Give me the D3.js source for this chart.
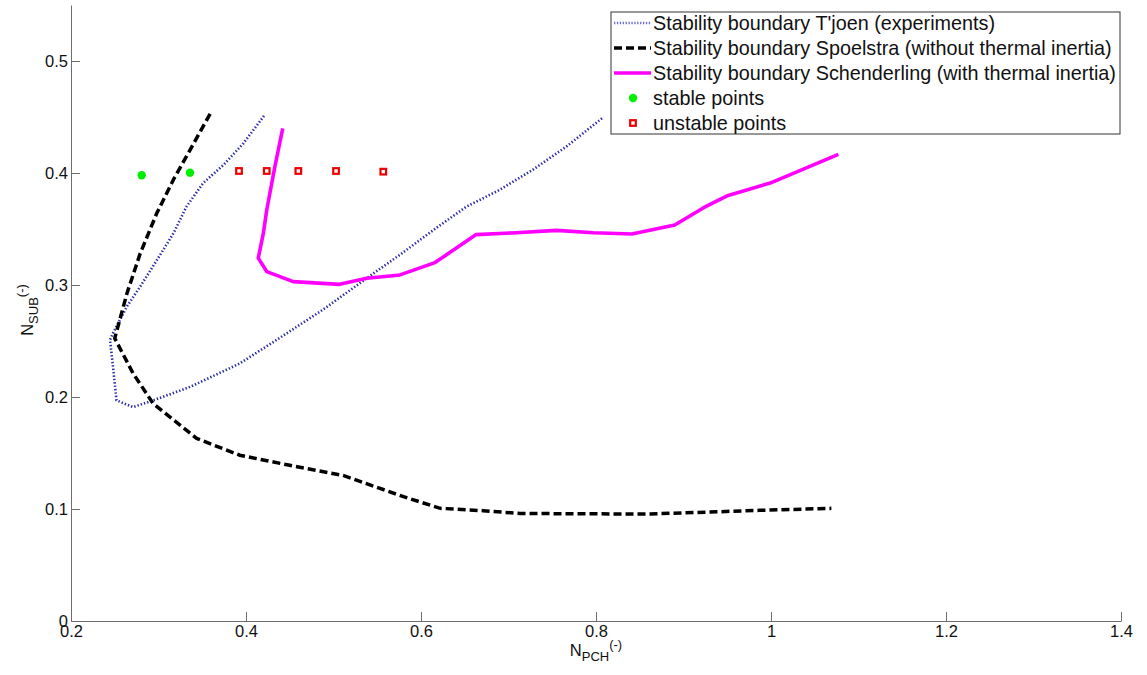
<!DOCTYPE html>
<html>
<head>
<meta charset="utf-8">
<script src="https://cdn.jsdelivr.net/npm/d3@7"></script>
<style>
  body { margin: 0; background: #fff; }
  svg { display: block; font-family: "Liberation Sans", Arial, sans-serif; }
</style>
</head>
<body>
<svg width="1147" height="675"></svg>
<script>
// T'joen experiments (blue dotted)
const tjoenX = [0.4206, 0.397, 0.374, 0.351, 0.332, 0.317, 0.298, 0.279, 0.264, 0.248, 0.2446, 0.248, 0.252, 0.271, 0.294, 0.336, 0.393, 0.435, 0.488, 0.545, 0.576, 0.614, 0.652, 0.690, 0.728, 0.766, 0.8087];
const tjoenY = [0.451, 0.4265, 0.407, 0.391, 0.370, 0.346, 0.322, 0.2985, 0.281, 0.257, 0.251, 0.227, 0.197, 0.191, 0.197, 0.209, 0.230, 0.251, 0.278, 0.310, 0.327, 0.349, 0.370, 0.385, 0.403, 0.4235, 0.450];

// Spoelstra, without thermal inertia (black dashed)
const spoelX = [0.359, 0.336, 0.317, 0.298, 0.279, 0.264, 0.250, 0.271, 0.294, 0.3436, 0.393, 0.450, 0.511, 0.58, 0.622, 0.671, 0.713, 0.858, 0.942, 0.987, 1.069];
const spoelY = [0.4527, 0.4205, 0.394, 0.364, 0.328, 0.2926, 0.2524, 0.221, 0.194, 0.163, 0.148, 0.139, 0.130, 0.111, 0.1006, 0.0985, 0.096, 0.0955, 0.0976, 0.0988, 0.1006];

// Schenderling, with thermal inertia (magenta)
const schenX = [0.442, 0.433, 0.4237, 0.4198, 0.414, 0.4237, 0.454, 0.507, 0.538, 0.576, 0.616, 0.663, 0.709, 0.755, 0.797, 0.841, 0.890, 0.923, 0.951, 0.999, 1.077];
const schenY = [0.4399, 0.4056, 0.367, 0.346, 0.324, 0.312, 0.303, 0.3006, 0.306, 0.309, 0.320, 0.345, 0.3467, 0.3488, 0.3467, 0.3455, 0.3536, 0.369, 0.380, 0.391, 0.4167];

const stableX = [0.2808, 0.336];
const stableY = [0.398, 0.4003];
const unstableX = [0.392, 0.4237, 0.4598, 0.5029, 0.5569];
const unstableY = [0.4018, 0.4018, 0.4018, 0.4018, 0.4012];

const xTicks = [0.2, 0.4, 0.6, 0.8, 1, 1.2, 1.4];
const xTickLabels = ["0.2", "0.4", "0.6", "0.8", "1", "1.2", "1.4"];
const yTicks = [0, 0.1, 0.2, 0.3, 0.4, 0.5];
const yTickLabels = ["0", "0.1", "0.2", "0.3", "0.4", "0.5"];

const legendLabels = [
  "Stability boundary T'joen (experiments)",
  "Stability boundary Spoelstra (without thermal inertia)",
  "Stability boundary Schenderling (with thermal inertia)",
  "stable points",
  "unstable points"
];

const svg = d3.select("svg");
const x = d3.scaleLinear().domain([0.2, 1.4]).range([71, 1121]);
const y = d3.scaleLinear().domain([0, 0.55]).range([621, 5]);

const zip = (xs, ys) => xs.map((v, i) => [v, ys[i]]);
const line = d3.line().x(d => x(d[0])).y(d => y(d[1]));

// axes (MATLAB style: inward ticks, no box)
const xAxis = d3.axisBottom(x).tickValues(xTicks)
  .tickFormat((d, i) => xTickLabels[i]).tickSizeInner(-9).tickSizeOuter(0).tickPadding(4);
const yAxis = d3.axisLeft(y).tickValues(yTicks)
  .tickFormat((d, i) => yTickLabels[i]).tickSizeInner(-9).tickSizeOuter(0).tickPadding(3);

const gx = svg.append("g").attr("transform", "translate(0,621)").call(xAxis);
const gy = svg.append("g").attr("transform", "translate(71,0)").call(yAxis);
[gx, gy].forEach(g => {
  g.selectAll("path, line").attr("stroke", "#6e6e6e");
  g.selectAll("text").attr("font-size", 16.5).attr("fill", "#111")
    .attr("font-family", "'Liberation Sans', Arial, sans-serif");
});

// axis labels
const xl = svg.append("text").attr("x", 596).attr("y", 656)
  .attr("text-anchor", "middle").attr("font-size", 16.5).attr("fill", "#111");
xl.append("tspan").text("N");
xl.append("tspan").attr("font-size", 13).attr("dy", 5).text("PCH");
xl.append("tspan").attr("font-size", 13).attr("dy", -12).text("(-)");

const yl = svg.append("text").attr("transform", "translate(33,310) rotate(-90)")
  .attr("text-anchor", "middle").attr("font-size", 16.5).attr("fill", "#111");
yl.append("tspan").text("N");
yl.append("tspan").attr("font-size", 13).attr("dy", 5).text("SUB");
yl.append("tspan").attr("font-size", 13).attr("dy", -12).text("(-)");

// curves
svg.append("path").datum(zip(tjoenX, tjoenY)).attr("d", line)
  .attr("fill", "none").attr("stroke", "#2c2caa").attr("stroke-width", 2.6)
  .attr("stroke-dasharray", "1.4,2");
svg.append("path").datum(zip(spoelX, spoelY)).attr("d", line)
  .attr("fill", "none").attr("stroke", "#000").attr("stroke-width", 3.5)
  .attr("stroke-dasharray", "8,4");
svg.append("path").datum(zip(schenX, schenY)).attr("d", line)
  .attr("fill", "none").attr("stroke", "#ff00ff").attr("stroke-width", 3.6)
  .attr("stroke-linejoin", "round");

// points
svg.append("g").selectAll("circle").data(zip(stableX, stableY)).join("circle")
  .attr("cx", d => x(d[0])).attr("cy", d => y(d[1])).attr("r", 4.2)
  .attr("fill", "#00ee00");
svg.append("g").selectAll("rect").data(zip(unstableX, unstableY)).join("rect")
  .attr("x", d => x(d[0]) - 2.8).attr("y", d => y(d[1]) - 2.8)
  .attr("width", 5.6).attr("height", 5.6)
  .attr("fill", "#fff").attr("stroke", "#ee0000").attr("stroke-width", 2.2);

// legend
const lg = svg.append("g");
lg.append("rect").attr("x", 611).attr("y", 12).attr("width", 509).attr("height", 122)
  .attr("fill", "#fff").attr("stroke", "#333").attr("stroke-width", 1);
const rowY = i => 23 + i * 25;
const styles = [
  { stroke: "#6a6ad0", w: 2.5, dash: "1.3,1.6" },
  { stroke: "#000", w: 3.5, dash: "8,4" },
  { stroke: "#ff00ff", w: 3.5, dash: null }
];
styles.forEach((s, i) => {
  lg.append("line").attr("x1", 614).attr("x2", 651).attr("y1", rowY(i)).attr("y2", rowY(i))
    .attr("stroke", s.stroke).attr("stroke-width", s.w).attr("stroke-dasharray", s.dash);
});
lg.append("circle").attr("cx", 633).attr("cy", rowY(3)).attr("r", 4.2).attr("fill", "#00ee00");
lg.append("rect").attr("x", 630.2).attr("y", rowY(4) - 2.8).attr("width", 5.6).attr("height", 5.6)
  .attr("fill", "#fff").attr("stroke", "#ee0000").attr("stroke-width", 2.2);
lg.selectAll("text.lab").data(legendLabels).join("text").attr("class", "lab")
  .attr("x", 653).attr("y", (d, i) => rowY(i)).attr("dy", "0.35em")
  .attr("font-size", 19.8).attr("fill", "#111").text(d => d);
</script>
</body>
</html>
